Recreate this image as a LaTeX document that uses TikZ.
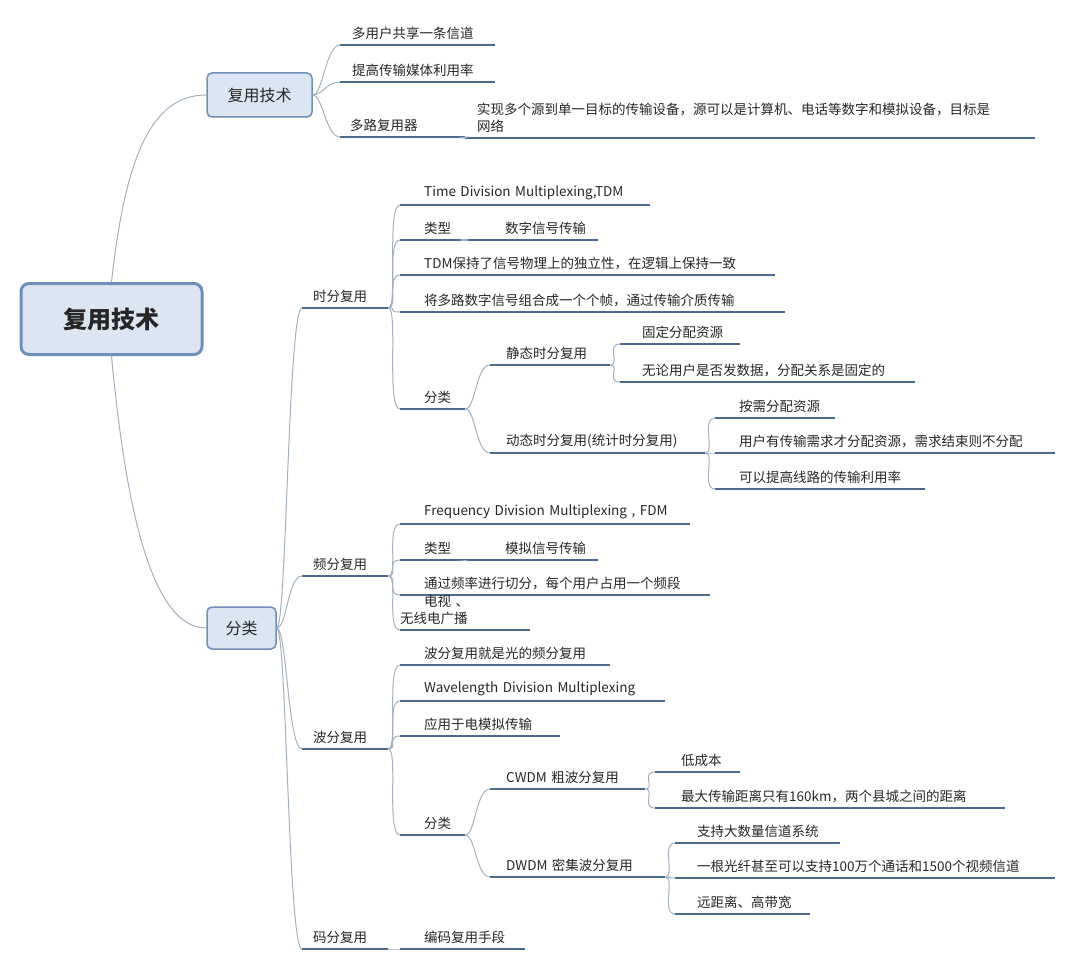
\documentclass[tikz,border=0pt]{standalone}
\usepackage{fontspec}
\setmainfont{Noto Sans CJK SC}
\begin{document}
\begin{tikzpicture}[x=1pt,y=-1pt,
  every node/.style={font=\fontsize{13.5}{17}\selectfont,text=black!85},
  item/.style={anchor=south west,inner xsep=0pt,inner ysep=5pt,text width=#1,align=left},
  uline/.style={draw=ul,line width=2.6pt},
  br/.style={draw=bc,line width=1pt},
  lbox/.style={draw=ub,fill=fb,line width=1.5pt,rounded corners=5pt,minimum height=44pt,font=\fontsize{16}{19}\selectfont}]
\definecolor{ul}{HTML}{4A6A8E}
\definecolor{bc}{HTML}{A3B0BF}
\definecolor{ub}{HTML}{6E8FB8}
\definecolor{fb}{HTML}{DCE6F2}
\useasboundingbox (0,0) rectangle (1080,955);
% root
\node[draw=ub,fill=fb,line width=3pt,rounded corners=8pt,minimum width=181pt,minimum height=71pt,font=\fontsize{24}{28}\bfseries\selectfont] (root) at (111.5,319) {复用技术};
\node[lbox,minimum width=105pt] (A) at (259.5,95) {复用技术};
\node[lbox,minimum width=69pt,minimum height=42pt] (B) at (241.5,628) {分类};
\draw[br] (root.north) .. controls (125,160) and (150,95) .. (A.west);
\draw[br] (root.south) .. controls (125,500) and (150,628) .. (B.west);
% helper macros: name, xstart, yline, length, indent, text
\newcommand{\itm}[6]{%
  \node[item=#4pt] (#1) at (#2,#3) {\hspace*{#5pt}#6};
  \draw[uline] (#1.south west) -- (#1.south east);}
\newcommand{\con}[2]{\draw[br] (#1) .. controls +(10,0) and +(-14,0) .. (#2.south west);}
% top branch
\itm{a1}{340}{45}{155}{12}{多用户共享一条信道}
\itm{a2}{340}{82}{155}{12}{提高传输媒体利用率}
\itm{a3}{340}{137}{125}{10}{多路复用器}
\itm{a31}{465}{138}{570}{12}{实现多个源到单一目标的传输设备，源可以是计算机、电话等数字和模拟设备，目标是\\\hspace*{12pt}网络}
\foreach \c in {a1,a2,a3}{\con{A.east}{\c}}
\con{a3.south east}{a31}
% 时分复用
\itm{t}{302}{308}{86}{11}{时分复用}
\itm{t1}{400}{205}{250}{24}{Time Division Multiplexing,TDM}
\itm{t2}{400}{240}{65}{24}{类型}
\itm{t21}{465}{240}{133}{40}{数字信号传输}
\itm{t3}{400}{275}{375}{24}{TDM保持了信号物理上的独立性，在逻辑上保持一致}
\itm{t4}{400}{312}{385}{24}{将多路数字信号组合成一个个帧，通过传输介质传输}
\itm{t5}{400}{409}{65}{24}{分类}
\itm{t51}{490}{365}{120}{16}{静态时分复用}
\itm{t511}{620}{344}{120}{22}{固定分配资源}
\itm{t512}{620}{382}{295}{22}{无论用户是否发数据，分配关系是固定的}
\itm{t52}{490}{453}{215}{16}{动态时分复用(统计时分复用)}
\itm{t521}{715}{418}{120}{24}{按需分配资源}
\itm{t522}{715}{453}{340}{24}{用户有传输需求才分配资源，需求结束则不分配}
\itm{t523}{715}{489}{210}{24}{可以提高线路的传输利用率}
\foreach \c in {t1,t2,t3,t4,t5}{\con{t.south east}{\c}}
\con{t2.south east}{t21}
\foreach \c in {t51,t52}{\con{t5.south east}{\c}}
\foreach \c in {t511,t512}{\con{t51.south east}{\c}}
\foreach \c in {t521,t522,t523}{\con{t52.south east}{\c}}
% 频分复用
\itm{f}{302}{576}{86}{11}{频分复用}
\itm{f1}{400}{524}{290}{24}{Frequency Division Multiplexing , FDM}
\itm{f2}{400}{560}{65}{24}{类型}
\itm{f21}{465}{560}{133}{40}{模拟信号传输}
\itm{f3}{400}{595}{310}{24}{通过频率进行切分，每个用户占用一个频段}
\itm{f4}{400}{630}{130}{24}{电视 、 无线电广播}
\foreach \c in {f1,f2,f3,f4}{\con{f.south east}{\c}}
\con{f2.south east}{f21}
% 波分复用
\itm{w}{302}{749}{86}{11}{波分复用}
\itm{w1}{400}{665}{210}{24}{波分复用就是光的频分复用}
\itm{w2}{400}{701}{265}{24}{Wavelength Division Multiplexing}
\itm{w3}{400}{736}{160}{24}{应用于电模拟传输}
\itm{w4}{400}{835}{65}{24}{分类}
\itm{w41}{490}{789}{155}{16}{CWDM 粗波分复用}
\itm{w411}{655}{772}{85}{26}{低成本}
\itm{w412}{655}{808}{350}{26}{最大传输距离只有160km，两个县城之间的距离}
\itm{w42}{490}{877}{175}{16}{DWDM 密集波分复用}
\itm{w421}{675}{843}{165}{22}{支持大数量信道系统}
\itm{w422}{675}{878}{380}{22}{一根光纤甚至可以支持100万个通话和1500个视频信道}
\itm{w423}{675}{914}{135}{22}{远距离、高带宽}
\foreach \c in {w1,w2,w3,w4}{\con{w.south east}{\c}}
\foreach \c in {w41,w42}{\con{w4.south east}{\c}}
\foreach \c in {w411,w412}{\con{w41.south east}{\c}}
\foreach \c in {w421,w422,w423}{\con{w42.south east}{\c}}
% 码分复用
\itm{c}{302}{949}{86}{11}{码分复用}
\itm{c1}{400}{949}{125}{24}{编码复用手段}
\con{c.south east}{c1}
\foreach \c in {t,f,w,c}{\con{B.east}{\c}}
\end{tikzpicture}
\end{document}
